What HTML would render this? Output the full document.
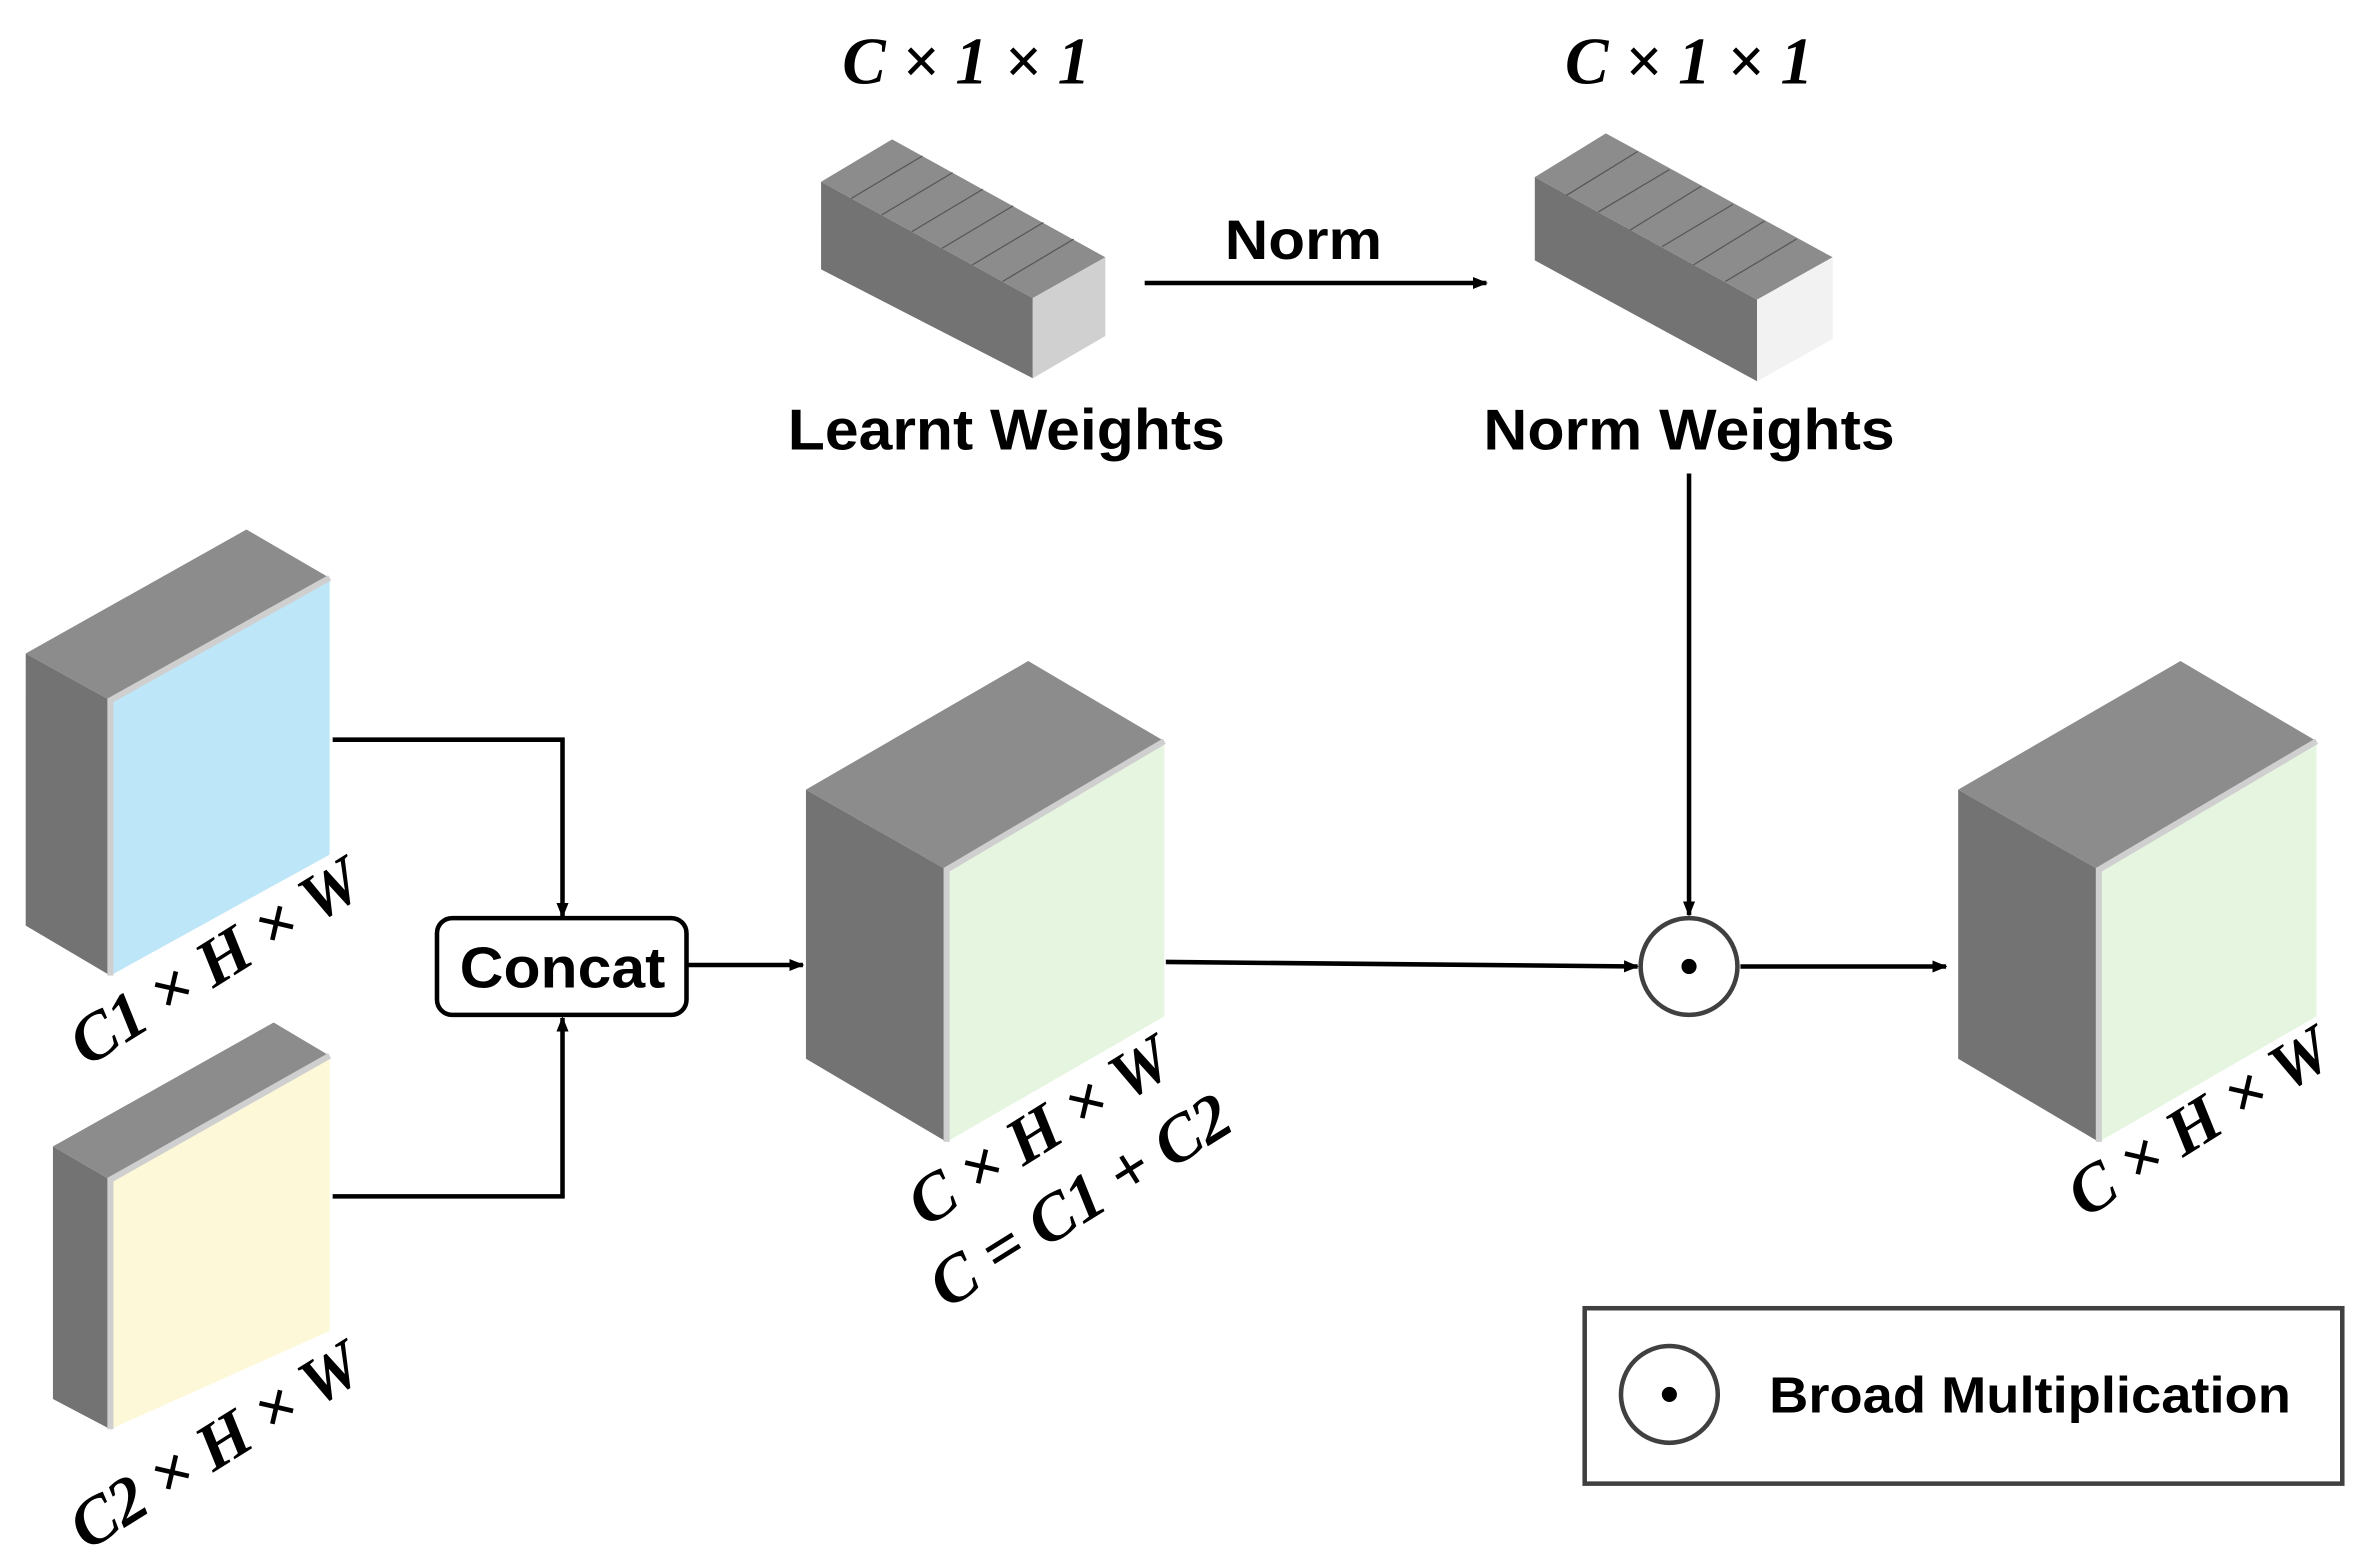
<!DOCTYPE html>
<html><head><meta charset="utf-8"><style>
html,body{margin:0;padding:0;background:#fff;}
svg{display:block;}
.m{font-family:"Liberation Serif",serif;font-weight:bold;font-style:italic;font-size:44px;fill:#000;}
.s{font-family:"Liberation Sans",sans-serif;font-weight:bold;fill:#000;}
</style></head><body>
<svg width="2371" height="1561" viewBox="0 0 1568 1032" xmlns="http://www.w3.org/2000/svg">
<defs>
<marker id="a" markerWidth="10" markerHeight="10" refX="9" refY="5" orient="auto" markerUnits="userSpaceOnUse">
<path d="M0,1 L10,5 L0,9 Z" fill="#000"/></marker>
</defs>
<polygon points="17,432 73,463 73,645 17,612" fill="#737373"/>
<polygon points="17,432 163,350 218,382 73,463" fill="#8c8c8c"/>
<polygon points="73,463 218,382 218,565 73,645" fill="#bde6f8"/>
<polyline points="73,645 73,463 218,382" fill="none" stroke="#cfcfcf" stroke-width="4"/>
<polygon points="35,758 73,780 73,945 35,925" fill="#737373"/>
<polygon points="35,758 181,676 218,698 73,780" fill="#8c8c8c"/>
<polygon points="73,780 218,698 218,880 73,945" fill="#fdf8d8"/>
<polyline points="73,945 73,780 218,698" fill="none" stroke="#cfcfcf" stroke-width="4"/>
<polygon points="533,522 626,575 626,755 533,700" fill="#737373"/>
<polygon points="533,522 680,437 770,490 626,575" fill="#8c8c8c"/>
<polygon points="626,575 770,490 770,672 626,755" fill="#e6f5e0"/>
<polyline points="626,755 626,575 770,490" fill="none" stroke="#cfcfcf" stroke-width="4"/>
<polygon points="1295,522 1388,575 1388,755 1295,700" fill="#737373"/>
<polygon points="1295,522 1442,437 1532,490 1388,575" fill="#8c8c8c"/>
<polygon points="1388,575 1532,490 1532,672 1388,755" fill="#e6f5e0"/>
<polyline points="1388,755 1388,575 1532,490" fill="none" stroke="#cfcfcf" stroke-width="4"/>
<polygon points="543,120 683,197 683,250 543,178" fill="#737373"/>
<polygon points="543,120 590,92 731,170 683,197" fill="#8c8c8c"/>
<polygon points="683,197 731,170 731,222 683,250" fill="#d0d0d0"/>
<g stroke="#555" stroke-width="0.8">
<line x1="563" y1="131" x2="610" y2="103"/><line x1="583" y1="142" x2="630" y2="114"/>
<line x1="603" y1="153" x2="650" y2="125"/><line x1="623" y1="164" x2="670" y2="136"/>
<line x1="643" y1="175" x2="690" y2="147"/><line x1="663" y1="186" x2="710" y2="158"/>
</g>
<polygon points="1015,117 1162,198 1162,252 1015,172" fill="#737373"/>
<polygon points="1015,117 1062,88 1212,170 1162,198" fill="#8c8c8c"/>
<polygon points="1162,198 1212,170 1212,224 1162,252" fill="#f2f2f2"/>
<g stroke="#555" stroke-width="0.8">
<line x1="1036" y1="129" x2="1083" y2="100"/><line x1="1057" y1="140" x2="1104" y2="112"/>
<line x1="1078" y1="152" x2="1125" y2="123"/><line x1="1099" y1="163" x2="1146" y2="135"/>
<line x1="1120" y1="175" x2="1167" y2="146"/><line x1="1141" y1="186" x2="1188" y2="158"/>
</g>
<text class="m" x="557" y="55" font-size="38" textLength="164" lengthAdjust="spacingAndGlyphs">C × 1 × 1</text>
<text class="m" x="1035" y="55" font-size="38" textLength="164" lengthAdjust="spacingAndGlyphs">C × 1 × 1</text>
<text class="s" x="810" y="171" font-size="37" textLength="104" lengthAdjust="spacingAndGlyphs">Norm</text>
<text class="s" x="521" y="297" font-size="38" textLength="289" lengthAdjust="spacingAndGlyphs">Learnt Weights</text>
<text class="s" x="981" y="297" font-size="38" textLength="272" lengthAdjust="spacingAndGlyphs">Norm Weights</text>
<g stroke="#000" stroke-width="3" fill="none">
<line x1="757" y1="187" x2="983" y2="187" marker-end="url(#a)"/>
<polyline points="220,489 372,489 372,606" marker-end="url(#a)"/>
<polyline points="220,791 372,791 372,673" marker-end="url(#a)"/>
<line x1="455" y1="638" x2="531" y2="638" marker-end="url(#a)"/>
<line x1="771" y1="636" x2="1083" y2="639" marker-end="url(#a)"/>
<line x1="1117" y1="313" x2="1117" y2="605" marker-end="url(#a)"/>
<line x1="1151" y1="639" x2="1287" y2="639" marker-end="url(#a)"/>
</g>
<rect x="289" y="607" width="165" height="64" rx="10" fill="#fff" stroke="#000" stroke-width="3"/>
<text class="s" x="304" y="653" font-size="38" textLength="136" lengthAdjust="spacingAndGlyphs">Concat</text>
<circle cx="1117" cy="639" r="32" fill="#fff" stroke="#404040" stroke-width="3"/>
<circle cx="1117" cy="639" r="5" fill="#000"/>
<rect x="1048" y="865" width="501" height="116" fill="#fff" stroke="#404040" stroke-width="3"/>
<circle cx="1104" cy="922" r="32" fill="#fff" stroke="#404040" stroke-width="3"/>
<circle cx="1104" cy="922" r="5" fill="#000"/>
<text class="s" x="1170" y="934" font-size="34" textLength="345" lengthAdjust="spacingAndGlyphs">Broad Multiplication</text>
<text class="m" text-anchor="middle" transform="translate(150,648) rotate(-32)">C1 × H × W</text>
<text class="m" text-anchor="middle" transform="translate(150,968) rotate(-32)">C2 × H × W</text>
<text class="m" text-anchor="middle" transform="translate(695,760) rotate(-32)">C × H × W</text>
<text class="m" text-anchor="middle" transform="translate(722,806) rotate(-32)">C = C1 + C2</text>
<text class="m" text-anchor="middle" transform="translate(1462,754) rotate(-32)">C × H × W</text>
</svg>
</body></html>
